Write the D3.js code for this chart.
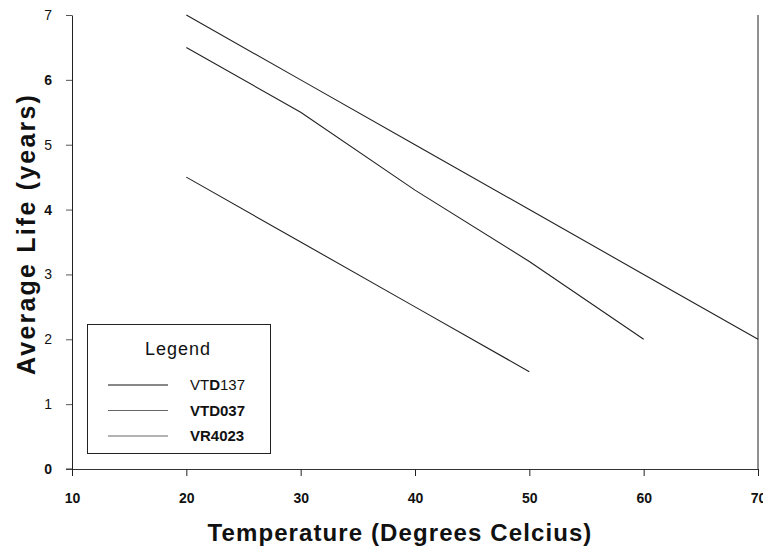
<!DOCTYPE html>
<html>
<head>
<meta charset="utf-8">
<script src="https://cdn.jsdelivr.net/npm/d3@7"></script>
<style>
  body { margin: 0; background: #fff; }
  svg { display: block; font-family: "Liberation Sans", Arial, sans-serif; }
</style>
</head>
<body>
<div id="chart"></div>
<script>
// data
var xTicks = [10, 20, 30, 40, 50, 60, 70];
var yTicks = [0, 1, 2, 3, 4, 5, 6, 7];
var names = ["VTD137", "VTD037", "VR4023"];
var temps = [20, 30, 40, 50, 60, 70];
var vtd137 = [7, 6, 5, 4, 3, 2];
var vtd037 = [6.5, 5.5, 4.3, 3.2, 2.0];
var vr4023 = [4.5, 3.5, 2.5, 1.5];

var width = 763, height = 546;
var margin = {top: 15, right: 5, bottom: 77, left: 72};

var svg = d3.select("#chart").append("svg")
    .attr("width", width)
    .attr("height", height);

var x = d3.scaleLinear().domain([10, 70]).range([margin.left, width - margin.right]);
var y = d3.scaleLinear().domain([0, 7]).range([height - margin.bottom, margin.top]);

// y axis
var gy = svg.append("g")
    .attr("transform", "translate(" + margin.left + ",0)")
    .call(d3.axisLeft(y).tickValues(yTicks).tickFormat(d3.format("d"))
        .tickSize(6).tickSizeOuter(0).tickPadding(14));
gy.select(".domain").attr("stroke", "#222");
gy.selectAll(".tick line").attr("stroke", "#555");
gy.selectAll(".tick text")
    .attr("font-size", 14)
    .attr("fill", "#111")
    .attr("font-weight", function(d) { return (d == 0 || d == 4 || d == 6) ? "bold" : "normal"; })
    .attr("font-family", "Liberation Sans, Arial, sans-serif");

// x axis
var gx = svg.append("g")
    .attr("transform", "translate(0," + y(0) + ")")
    .call(d3.axisBottom(x).tickValues(xTicks).tickFormat(d3.format("d"))
        .tickSize(7).tickSizeOuter(0).tickPadding(17));
gx.select(".domain").attr("stroke", "#333");
gx.selectAll(".tick line").attr("stroke", "#222");
gx.selectAll(".tick text")
    .attr("font-size", 14)
    .attr("font-weight", "bold")
    .attr("fill", "#111")
    .attr("font-family", "Liberation Sans, Arial, sans-serif");

// extend x axis left to y axis tick, and right frame line
svg.append("line")
    .attr("x1", margin.left - 6).attr("x2", margin.left)
    .attr("y1", y(0)).attr("y2", y(0))
    .attr("stroke", "#333");
svg.append("line")
    .attr("x1", x(70)).attr("x2", x(70))
    .attr("y1", y(7)).attr("y2", y(0))
    .attr("stroke", "#222");

// lines
var series = [vtd137, vtd037, vr4023];
var line = d3.line()
    .x(function(d, i) { return x(temps[i]); })
    .y(function(d) { return y(d); });

svg.selectAll("path.series")
    .data(series)
    .enter()
    .append("path")
      .attr("class", "series")
      .attr("d", line)
      .attr("fill", "none")
      .attr("stroke", "#222")
      .attr("stroke-width", 1.1);

// axis titles
svg.append("text")
    .attr("x", 400)
    .attr("y", 541)
    .attr("text-anchor", "middle")
    .attr("font-size", 24)
    .attr("font-weight", "bold")
    .attr("letter-spacing", 1.1)
    .attr("fill", "#111")
    .text("Temperature (Degrees Celcius)");

svg.append("text")
    .attr("transform", "translate(35,234) rotate(-90)")
    .attr("text-anchor", "middle")
    .attr("font-size", 25)
    .attr("font-weight", "bold")
    .attr("letter-spacing", 2.2)
    .attr("fill", "#111")
    .text("Average Life (years)");

// legend
var lg = svg.append("g");
lg.append("rect")
    .attr("x", 87.5).attr("y", 324.5)
    .attr("width", 183).attr("height", 129)
    .attr("fill", "#fff")
    .attr("stroke", "#222");
lg.append("text")
    .attr("x", 145).attr("y", 355)
    .attr("font-size", 18)
    .attr("letter-spacing", 1)
    .attr("fill", "#111")
    .text("Legend");

var legendColors = ["#111", "#666", "#666"];
names.forEach(function(n, i) {
    var ly = 385 + i * 25.5;
    lg.append("line")
        .attr("x1", 108).attr("x2", 168)
        .attr("y1", ly).attr("y2", ly)
        .attr("stroke", legendColors[i]);
    var t = lg.append("text")
        .attr("x", 190).attr("y", ly + 5)
        .attr("font-size", 15)
        .attr("fill", "#111");
    if (i == 0) {
        t.append("tspan").text("VT");
        t.append("tspan").attr("font-weight", "bold").text("D");
        t.append("tspan").text("137");
    } else {
        t.attr("font-weight", "bold").text(n);
    }
});
</script>
</body>
</html>
